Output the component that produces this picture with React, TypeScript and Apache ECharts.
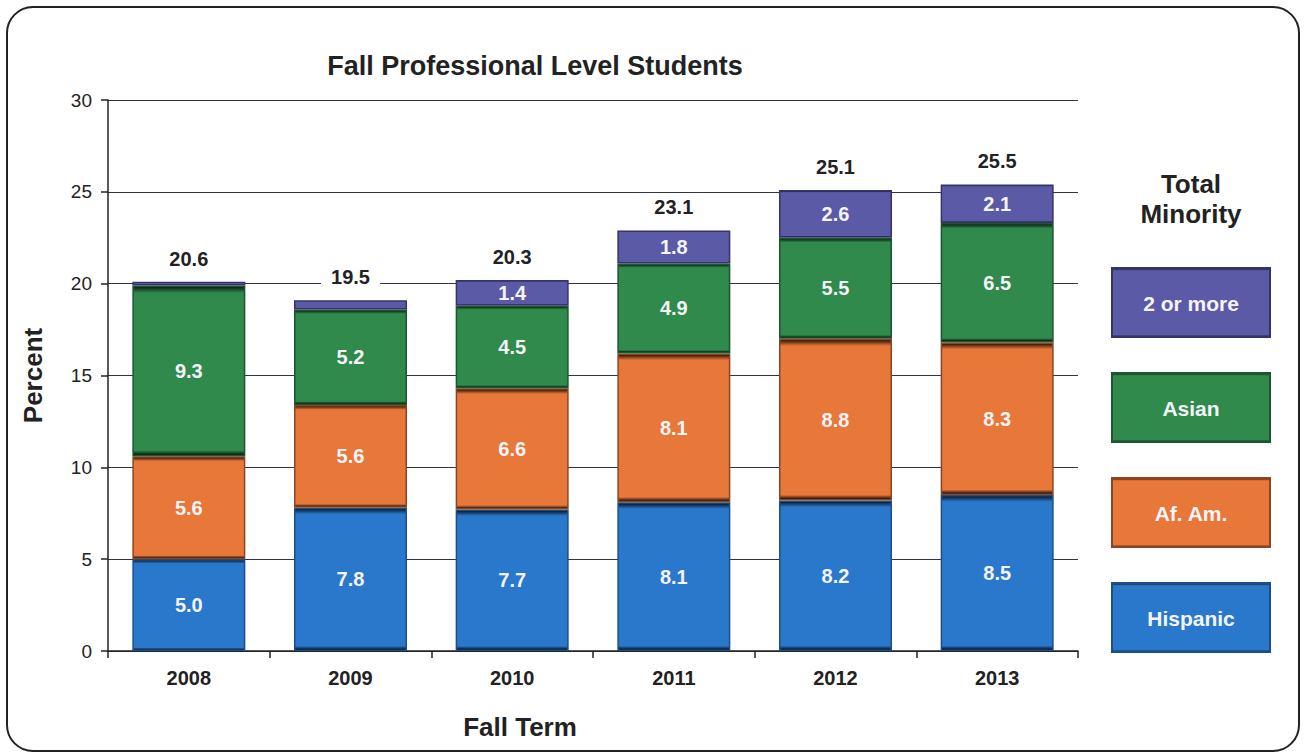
import React, { useEffect, useRef } from "react";
import * as echarts from "echarts";

const categories = ["2008", "2009", "2010", "2011", "2012", "2013"];
const hispanic = [5.0, 7.8, 7.7, 8.1, 8.2, 8.5];
const afAm = [5.6, 5.6, 6.6, 8.1, 8.8, 8.3];
const asian = [9.3, 5.2, 4.5, 4.9, 5.5, 6.5];
const twoOrMore = [0.2, 0.5, 1.4, 1.8, 2.6, 2.1];
const totals = ["20.6", "19.5", "20.3", "23.1", "25.1", "25.5"];
const legendNames = ["2 or more", "Asian", "Af. Am.", "Hispanic"];

const COLORS: Record<string, string> = {
  "Hispanic": "#2a78cc",
  "Af. Am.": "#e8773a",
  "Asian": "#2f8a4c",
  "2 or more": "#5b5aa6",
};
const BORDERS: Record<string, string> = {
  "Hispanic": "#1c4f86",
  "Af. Am.": "#8a4622",
  "Asian": "#1d5530",
  "2 or more": "#35346a",
};

const FONT = "'Liberation Sans', Arial, Helvetica, sans-serif";

function bevel(c: string) {
  return {
    type: "linear",
    x: 0, y: 0, x2: 0, y2: 1,
    colorStops: [
      { offset: 0, color: echarts.color.modifyHSL(c, undefined, undefined, 0.06) as string },
      { offset: 0.04, color: c },
      { offset: 0.97, color: c },
      { offset: 1, color: echarts.color.modifyHSL(c, undefined, undefined, -0.05) as string },
    ],
  };
}

export default function App() {
  const ref = useRef<HTMLDivElement>(null);
  useEffect(() => {
    if (!ref.current) return;
    const chart = echarts.init(ref.current, null, { renderer: "svg" });
    const seg = (name: string, data: number[]) => ({
      name,
      type: "bar",
      stack: "total",
      barWidth: 113,
      data,
      itemStyle: {
        color: bevel(COLORS[name]),
        borderColor: BORDERS[name],
        borderWidth: 1.5,
      },
      label: {
        show: true,
        position: "inside",
        color: "#f4f4f8",
        fontFamily: FONT,
        fontWeight: "bold",
        fontSize: 20,
        formatter: (p: any) => (p.value >= 1 ? Number(p.value).toFixed(1) : ""),
      },
    });

    const legendGraphics: any[] = [];
    legendNames.forEach((n, i) => {
      const y = 268 + i * 105;
      legendGraphics.push({
        type: "rect",
        shape: { x: 1112, y, width: 158, height: 69 },
        style: { fill: bevel(COLORS[n]), stroke: BORDERS[n], lineWidth: 2 },
      });
      legendGraphics.push({
        type: "text",
        x: 1191,
        y: y + 35,
        style: {
          text: n,
          fill: "#f4f4f8",
          font: `bold 21px ${FONT}`,
          textAlign: "center",
          textVerticalAlign: "middle",
        },
      });
    });

    chart.setOption({
      animation: false,
      backgroundColor: "#ffffff",
      title: {
        text: "Fall Professional Level Students",
        left: 530,
        top: 47,
        textAlign: "center",
        textStyle: { fontFamily: FONT, fontWeight: "bold", fontSize: 27, color: "#222222" },
      },
      grid: { left: 108, right: 228, top: 100, bottom: 104 },
      xAxis: {
        type: "category",
        data: categories,
        axisLine: { lineStyle: { color: "#222222", width: 1.5 } },
        axisTick: { show: true, length: 7, lineStyle: { color: "#222222", width: 1.5 } },
        axisLabel: {
          fontFamily: FONT, fontWeight: "bold", fontSize: 20, color: "#222222", margin: 17,
        },
      },
      yAxis: {
        type: "value",
        min: 0,
        max: 30,
        interval: 5,
        name: "Percent",
        nameLocation: "middle",
        nameGap: 62,
        nameRotate: 90,
        nameTextStyle: { fontFamily: FONT, fontWeight: "bold", fontSize: 26, color: "#222222" },
        axisLine: { show: true, lineStyle: { color: "#222222", width: 1.5 } },
        axisTick: { show: true, length: 7, lineStyle: { color: "#222222", width: 1.5 } },
        axisLabel: { fontFamily: FONT, fontSize: 19, color: "#222222", margin: 16 },
        splitLine: { show: true, lineStyle: { color: "#2e3348", width: 1.2 } },
      },
      series: [
        seg("Hispanic", hispanic),
        seg("Af. Am.", afAm),
        seg("Asian", asian),
        seg("2 or more", twoOrMore),
        {
          name: "Total",
          type: "bar",
          stack: "total",
          barWidth: 113,
          data: categories.map(() => 0),
          itemStyle: { color: "transparent" },
          label: {
            show: true,
            position: "top",
            distance: 11,
            color: "#222222",
            backgroundColor: "#ffffff",
            padding: [2, 10],
            fontFamily: FONT,
            fontWeight: "bold",
            fontSize: 20,
            formatter: (p: any) => totals[p.dataIndex],
          },
        },
      ],
      graphic: [
        {
          type: "rect",
          shape: { x: 7, y: 7, width: 1292, height: 744, r: 26 },
          style: { fill: "none", stroke: "#222222", lineWidth: 2 },
          z: 100,
        },
        {
          type: "text",
          x: 520,
          y: 727,
          style: {
            text: "Fall Term",
            fill: "#222222",
            font: `bold 26px ${FONT}`,
            textAlign: "center",
            textVerticalAlign: "middle",
          },
        },
        {
          type: "text",
          x: 1191,
          y: 184,
          style: {
            text: "Total",
            fill: "#222222",
            font: `bold 26px ${FONT}`,
            textAlign: "center",
            textVerticalAlign: "middle",
          },
        },
        {
          type: "text",
          x: 1191,
          y: 214,
          style: {
            text: "Minority",
            fill: "#222222",
            font: `bold 26px ${FONT}`,
            textAlign: "center",
            textVerticalAlign: "middle",
          },
        },
        ...legendGraphics,
      ],
    });
    return () => chart.dispose();
  }, []);
  return (
    <div
      ref={ref}
      style={{ position: "fixed", left: 0, top: 0, width: 1306, height: 755 }}
    />
  );
}
